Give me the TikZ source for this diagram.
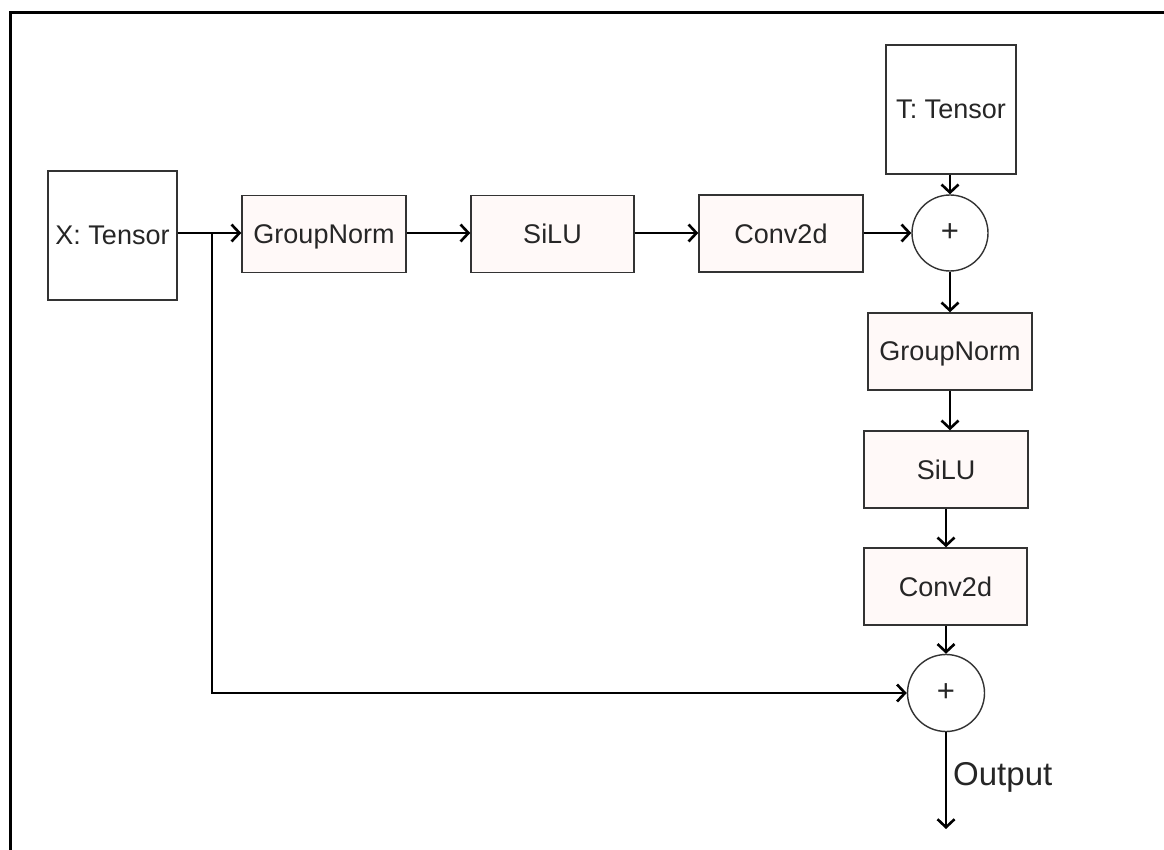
\documentclass[tikz,border=0pt]{standalone}
\usepackage{fontspec}
\setmainfont{Liberation Sans}
\usetikzlibrary{arrows.meta}
\definecolor{opfill}{HTML}{FFF9F8}
\definecolor{edge}{HTML}{333333}
\begin{document}
\begin{tikzpicture}[x=1pt,y=-1pt,
  base/.style={draw=edge, line width=1.4pt, inner sep=0pt, text depth=0pt, font=\fontsize{27}{31}\selectfont, text=black!85},
  inbox/.style={base, fill=white, minimum width=129pt, minimum height=129pt},
  opbox/.style={base, fill=opfill, minimum width=164pt, minimum height=77pt},
  addc/.style={base, circle, fill=white, minimum size=76pt, font=\fontsize{31}{35}\selectfont},
  conn/.style={line width=2.6pt, -{Straight Barb[length=8pt,width=17pt,line width=2.6pt]}}]
\useasboundingbox (0,0) rectangle (1164,850);
\fill[white] (0,0) rectangle (1164,850);
% frame
\draw[line width=3pt] (10,852) -- (10,13) -- (1166,13);
% nodes
\node[inbox] (x) at (112.5,235.5) {X: Tensor};
\node[opbox] (gn1) at (324,234) {GroupNorm};
\node[opbox, minimum width=163pt] (silu1) at (552.5,234) {SiLU};
\node[opbox] (conv1) at (781,233.5) {Conv2d};
\node[addc] (c1) at (950,233) {+};
\node[inbox, minimum width=130pt] (t) at (951,109.5) {T: Tensor};
\node[opbox] (gn2) at (950,351.5) {GroupNorm};
\node[opbox] (silu2) at (946,469.5) {SiLU};
\node[opbox, minimum width=163pt] (conv2) at (945.5,586.5) {Conv2d};
\node[addc, minimum size=77pt] (c2) at (946,693) {+};
\coordinate (br) at (212,233);
\coordinate (out) at (946,829);
\node[anchor=west, font=\fontsize{33}{37}\selectfont, text=black!85, inner sep=0pt] (outlbl) at (953,777) {Output};
% connectors
\draw[conn] (x.east |- br) -- (gn1.west |- br);
\draw[conn] (gn1.east |- br) -- (silu1.west |- br);
\draw[conn] (silu1.east |- br) -- (conv1.west |- br);
\draw[conn] (conv1.east |- c1) -- (c1.west);
\draw[conn] (t.south -| c1) -- (c1.north);
\draw[conn] (c1.south) -- (gn2.north -| c1);
\draw[conn] (gn2.south) -- (gn2.south |- silu2.north);
\draw[conn] (silu2.south) -- (silu2.south |- conv2.north);
\draw[conn] (conv2.south -| c2) -- (c2.north);
\draw[conn] (br) |- (c2.west);
\draw[conn] (c2.south) -- (out);
\end{tikzpicture}
\end{document}
